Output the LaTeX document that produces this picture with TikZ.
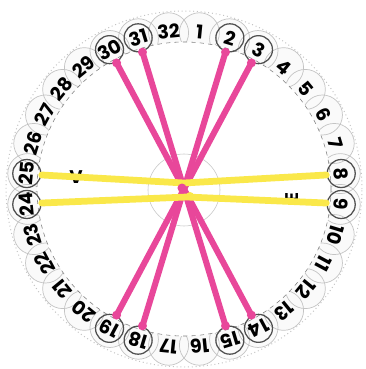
\documentclass[tikz,border=0pt]{standalone}
\usepackage{fontspec}
\setsansfont{Poppins}
\usepackage{tikz}

\definecolor{strpink}{HTML}{E8479A}
\definecolor{stryellow}{HTML}{FAE84A}
\definecolor{petalgray}{HTML}{C4C4C4}
\definecolor{ringgray}{HTML}{505050}

\begin{document}
\begin{tikzpicture}[
			x=0.025cm, y=0.025cm,
			petal/.style={draw=petalgray, line width=0.5pt},
			tooth/.style={inner sep=0pt, font=\sffamily\bfseries\fontsize{13.5}{13.5}\selectfont},
			ring/.style={draw=ringgray, line width=0.9pt},
			pinkstring/.style={draw=strpink, line width=4.3pt, line cap=round, line join=round},
			yellowstring/.style={draw=stryellow, line width=4.8pt, line cap=round, line join=round},
			side/.style={font=\sffamily\bfseries\fontsize{13}{13}\selectfont}
		]
		
		\useasboundingbox (-184,-180) rectangle (182,189);
		
		% Rim of petals
		\foreach \k in {1,...,32}
			\fill[gray!4] ({90-(\k-0.5)*11.25}:157) circle (20);
		\foreach \k in {1,...,32}
			\draw[petal] ({90-(\k-0.5)*11.25}:157) circle (20);
		\draw[petalgray, dotted, line width=0.7pt] (0,0) circle (178);
		
		% Inner field
		\draw[gray, dashed, fill=white] (0,0) circle (147);
		\draw[gray!45] (0,-1) circle (36);
		
		% Tooth numbers
		\foreach \k in {1,...,32} {
			\pgfmathsetmacro\ang{90-(\k-0.5)*11.25}
			\node[tooth, rotate=\ang-90] (t\k) at (\ang:158) {\k};
			\coordinate (e\k) at (\ang:143);
		}
		\foreach \k in {2,3,8,9,14,15,18,19,24,25,30,31}
			\draw[ring] (t\k) circle (14);
		
		% Sides
		\node[side] (vside) at (-108,12) {V};
		\node[side, rotate=90] (eside) at (108,-9) {E};
		
		% Strings
		\draw[pinkstring] (e30) -- (e14);
		\draw[pinkstring] (e31) -- (e15);
		\draw[pinkstring] (e2) -- (e18);
		\draw[pinkstring] (e3) -- (e19);
		\foreach \k in {2,3,14,15,18,19,30,31}
			\fill[strpink] (e\k) circle (4.5);
		
		\coordinate (ytop) at (0,6);
		\coordinate (ybot) at (3,-8);
		\draw[yellowstring] (e25) -- (ytop) -- (e8);
		\draw[yellowstring] (e24) -- (ybot) -- (e9);
		
		% Knots
		\fill[strpink] (-2,1) circle (4.5);
		\fill[stryellow] (6,-7) circle (4);
		
		\end{tikzpicture}
\end{document}
